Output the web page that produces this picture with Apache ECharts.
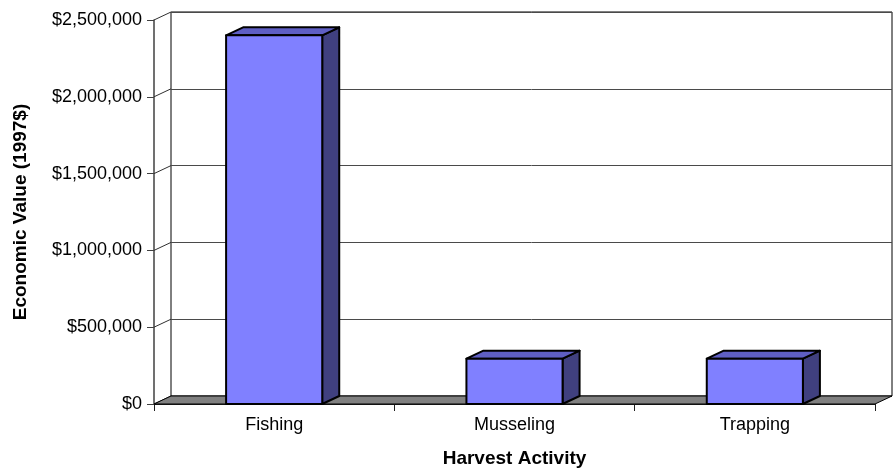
<!DOCTYPE html>
<html>
<head>
<meta charset="utf-8">
<script src="https://cdn.jsdelivr.net/npm/echarts@6/dist/echarts.min.js"></script>
<style>
  html, body { margin: 0; padding: 0; background: #ffffff; }
  #chart { width: 893px; height: 468px; }
</style>
</head>
<body>
<div id="chart"></div>
<script>
// Harvest activities and their economic value in 1997 dollars
const categories = ['Fishing', 'Musseling', 'Trapping'];
const economicValues = [2400000, 295000, 295000];
const yTickValues = [0, 500000, 1000000, 1500000, 2000000, 2500000];
const yMin = 0;
const yMax = 2500000;
const yStep = 500000;

// 3-D look: depth offset of the back wall and of each column
const DEPTH_X = 17;
const DEPTH_Y = 8;
const FONT = '"Liberation Sans", Arial, sans-serif';

function money(v) {
  return '$' + String(v).replace(/\B(?=(\d{3})+(?!\d))/g, ',');
}

// left edge of the category band and the width of one category slot
function band(api) {
  const w = api.size([1, 0])[0];
  const first = api.coord([0, 0]);
  return { w: w, left: first[0] - w / 2, base: first[1] };
}

const chart = echarts.init(document.getElementById('chart'), null, { renderer: 'canvas' });

chart.setOption({
  animation: false,
  backgroundColor: '#ffffff',
  grid: [
    // front plane (axes)
    { left: 154, right: 18, top: 20, bottom: 64, outerBoundsMode: 'none', containLabel: false },
    // back wall, shifted by the depth offset
    { left: 154 + DEPTH_X, right: 18 - DEPTH_X, top: 20 - DEPTH_Y, bottom: 64 + DEPTH_Y,
      outerBoundsMode: 'none', containLabel: false,
      show: true, borderColor: '#000000', borderWidth: 1, backgroundColor: 'transparent' }
  ],
  xAxis: [
    {
      gridIndex: 0,
      type: 'category',
      data: categories,
      boundaryGap: true,
      axisLine: { lineStyle: { color: '#202020', width: 1 } },
      axisTick: { show: true, length: 7, lineStyle: { color: '#202020', width: 1 } },
      axisLabel: { color: '#000000', fontSize: 18, fontFamily: FONT, margin: 12 },
      splitLine: { show: false },
      name: 'Harvest Activity',
      nameLocation: 'middle',
      nameGap: 45,
      nameTextStyle: { color: '#000000', fontSize: 19, fontWeight: 'bold', fontFamily: FONT }
    },
    {
      gridIndex: 1,
      type: 'category',
      data: categories,
      axisLine: { show: false },
      axisTick: { show: false },
      axisLabel: { show: false },
      splitLine: { show: false }
    }
  ],
  yAxis: [
    {
      gridIndex: 0,
      type: 'value',
      min: yMin,
      max: yMax,
      interval: yStep,
      axisLine: { show: true, lineStyle: { color: '#404040', width: 1.5 } },
      axisTick: { show: true, length: 7, lineStyle: { color: '#404040', width: 1 } },
      axisLabel: { color: '#000000', fontSize: 18, fontFamily: FONT, margin: 12, formatter: money },
      splitLine: { show: false },
      name: 'Economic Value (1997$)',
      nameLocation: 'middle',
      nameGap: 124,
      nameRotate: 90,
      nameTextStyle: { color: '#000000', fontSize: 19, fontWeight: 'bold', fontFamily: FONT }
    },
    {
      gridIndex: 1,
      type: 'value',
      min: yMin,
      max: yMax,
      interval: yStep,
      axisLine: { show: false },
      axisTick: { show: false },
      axisLabel: { show: false },
      splitLine: { show: true, lineStyle: { color: '#4a4a4a', width: 1 } }
    }
  ],
  series: [
    {
      // diagonal connectors from each front tick to its back-wall gridline
      type: 'custom',
      xAxisIndex: 0,
      yAxisIndex: 0,
      silent: true,
      data: yTickValues.map(function (v) { return [0, v]; }),
      renderItem: function (params, api) {
        const b = band(api);
        const y = api.coord([0, api.value(1)])[1];
        return {
          type: 'line',
          shape: { x1: b.left, y1: y, x2: b.left + DEPTH_X, y2: y - DEPTH_Y },
          style: { stroke: '#303030', lineWidth: 1 }
        };
      }
    },
    {
      // grey floor under the columns
      type: 'custom',
      xAxisIndex: 0,
      yAxisIndex: 0,
      silent: true,
      data: [[0, yMin]],
      renderItem: function (params, api) {
        const b = band(api);
        const right = b.left + b.w * categories.length;
        return {
          type: 'polygon',
          shape: {
            points: [
              [b.left, b.base],
              [right, b.base],
              [right + DEPTH_X, b.base - DEPTH_Y],
              [b.left + DEPTH_X, b.base - DEPTH_Y]
            ]
          },
          style: { fill: '#808080', stroke: '#000000', lineWidth: 1 }
        };
      }
    },
    {
      // 3-D columns: front face, top and right side
      type: 'custom',
      xAxisIndex: 0,
      yAxisIndex: 0,
      data: categories.map(function (c, i) { return [i, economicValues[i]]; }),
      encode: { x: 0, y: 1 },
      renderItem: function (params, api) {
        const idx = api.value(0);
        const top = api.coord([idx, api.value(1)]);
        const base = api.coord([idx, yMin])[1];
        const slot = api.size([1, 0])[0];
        const bw = slot * 0.4;
        const x0 = top[0] - bw / 2;
        const x1 = top[0] + bw / 2;
        const y0 = top[1];
        const edge = { stroke: '#000000', lineWidth: 2, lineJoin: 'round' };
        return {
          type: 'group',
          children: [
            {
              type: 'polygon',
              shape: { points: [[x1, y0], [x1 + DEPTH_X, y0 - DEPTH_Y], [x1 + DEPTH_X, base - DEPTH_Y], [x1, base]] },
              style: Object.assign({ fill: '#40407f' }, edge)
            },
            {
              type: 'polygon',
              shape: { points: [[x0, y0], [x0 + DEPTH_X, y0 - DEPTH_Y], [x1 + DEPTH_X, y0 - DEPTH_Y], [x1, y0]] },
              style: Object.assign({ fill: '#5f5fc4' }, edge)
            },
            {
              type: 'rect',
              shape: { x: x0, y: y0, width: bw, height: base - y0 },
              style: Object.assign({ fill: '#8080ff' }, edge)
            }
          ]
        };
      }
    }
  ]
});
</script>
</body>
</html>
